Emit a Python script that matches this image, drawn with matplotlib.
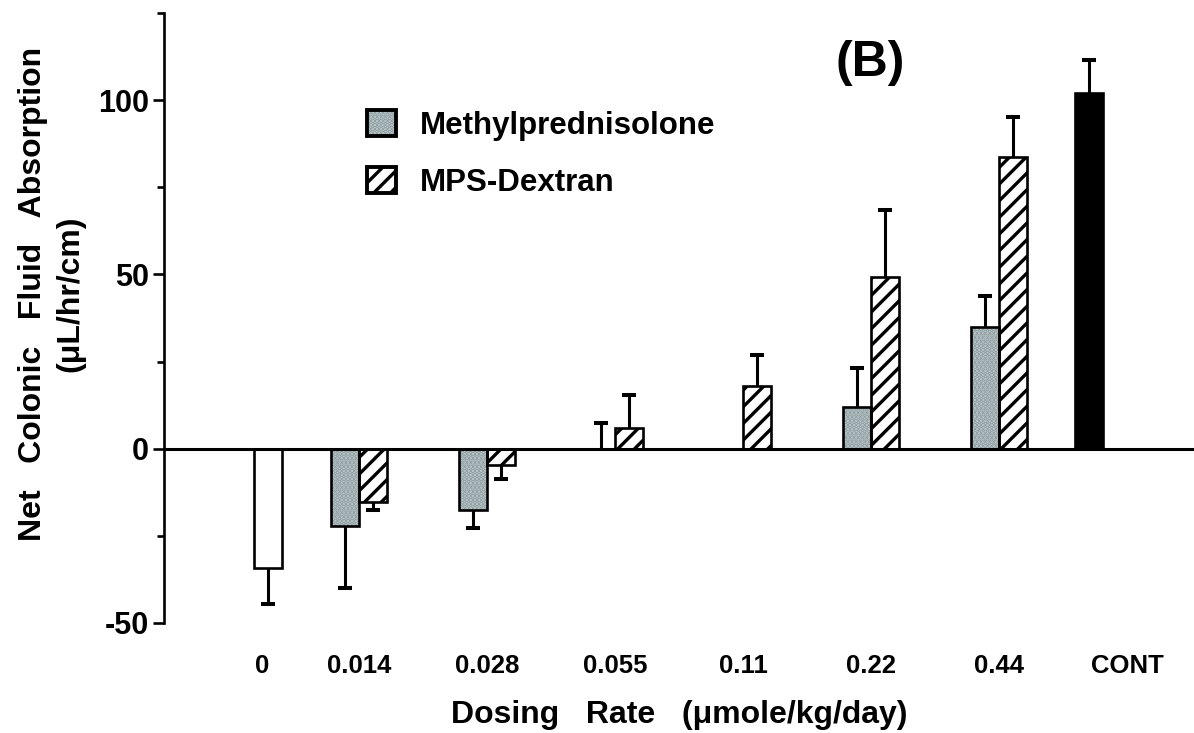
import numpy as np
import matplotlib
matplotlib.use("Agg")
import matplotlib.pyplot as plt
from matplotlib.patches import Patch
from matplotlib.legend_handler import HandlerTuple

# ---- data -------------------------------------------------------------
dose_labels = ["0", "0.014", "0.028", "0.055", "0.11", "0.22", "0.44", "CONT"]

# treated groups: doses 0.014 ... 0.44 (umole/kg/day)
mp_mean = [-22.1, -17.5, 0.0, np.nan, 11.9, 34.9]      # Methylprednisolone
mp_sem = [17.8, 5.2, 7.3, np.nan, 11.2, 8.9]
dx_mean = [-15.4, -4.8, 5.8, 17.9, 49.3, 83.8]         # MPS-Dextran
dx_sem = [2.3, 4.0, 9.5, 9.0, 19.3, 11.5]

vehicle_mean, vehicle_sem = -34.1, 10.4                # dose 0
control_mean, control_sem = 102.1, 9.5                 # CONT

# ---- layout -----------------------------------------------------------
FONT = "Liberation Sans"
BAR_W = 0.22
STIP_BG = "#c2cccc"
STIP_DOT = "#8a9ba0"
plt.rcParams["font.family"] = FONT
plt.rcParams["font.weight"] = "bold"
plt.rcParams["hatch.linewidth"] = 2.4
plt.rcParams["axes.unicode_minus"] = False

fig = plt.figure(figsize=(11.94, 7.33), dpi=100)
ax = fig.add_axes([164 / 1194, 110 / 733, 1030 / 1194, 610 / 733])
ax.set_xlim(-0.523, 7.523)
ax.set_ylim(-50, 125)

groups = np.arange(1, 7)
mp_x = groups - BAR_W / 2
dx_x = groups + BAR_W / 2
vehicle_x, control_x = 0.29, 6.70
tick_x = [0.24, 1, 2, 3, 4, 5, 6, 7.0]

mp_mean = np.array(mp_mean)
mp_sem = np.array(mp_sem)
dx_mean = np.array(dx_mean)
dx_sem = np.array(dx_sem)

EDGE_LW = 1.9


def one_sided_error(x, values, errs):
    """Stem from the bar end outward, with a cap only at the far end."""
    x = np.atleast_1d(x)
    values = np.atleast_1d(values)
    errs = np.atleast_1d(errs)
    sign = np.where(values < 0, -1.0, 1.0)
    lower = np.where(sign < 0, errs, 0.0)
    upper = np.where(sign > 0, errs, 0.0)
    ax.errorbar(x, values, yerr=np.vstack([lower, upper]), fmt="none",
                ecolor="black", elinewidth=2.2, capsize=0, zorder=1)
    ax.plot(x, values + sign * errs, linestyle="none", marker="_",
            markersize=10.5, markeredgewidth=2.9, color="black", zorder=1)


# vehicle (open bar)
ax.bar(vehicle_x, vehicle_mean, BAR_W, facecolor="white", edgecolor="black",
       linewidth=EDGE_LW, zorder=3)
one_sided_error(vehicle_x, vehicle_mean, vehicle_sem)

# Methylprednisolone (stippled)
m = ~np.isnan(mp_mean)
ax.bar(mp_x[m], mp_mean[m], BAR_W, facecolor=STIP_BG, edgecolor=STIP_DOT,
       hatch="....", linewidth=0, zorder=2)
ax.bar(mp_x[m], mp_mean[m], BAR_W, fill=False, edgecolor="black",
       linewidth=EDGE_LW, zorder=3)
one_sided_error(mp_x[m], mp_mean[m], mp_sem[m])

# MPS-Dextran (hatched)
ax.bar(dx_x, dx_mean, BAR_W, facecolor="white", edgecolor="black",
       hatch="//", linewidth=0, zorder=2)
ax.bar(dx_x, dx_mean, BAR_W, fill=False, edgecolor="black",
       linewidth=EDGE_LW, zorder=3)
one_sided_error(dx_x, dx_mean, dx_sem)

# control (solid)
ax.bar(control_x, control_mean, BAR_W, facecolor="black", edgecolor="black",
       linewidth=EDGE_LW, zorder=3)
one_sided_error(control_x, control_mean, control_sem)

# zero line
ax.axhline(0, color="black", linewidth=2.2, zorder=4)

# ---- axes styling -----------------------------------------------------
for side in ("top", "right", "bottom"):
    ax.spines[side].set_visible(False)
ax.spines["left"].set_linewidth(1.9)
ax.spines["left"].set_bounds(-50, 125)

ax.set_yticks([-50, 0, 50, 100])
ax.set_yticks([-25, 25, 75, 125], minor=True)
ax.tick_params(axis="y", which="major", length=8, width=1.9, pad=3,
               labelsize=22)
ax.tick_params(axis="y", which="minor", length=5, width=1.9)

ax.set_xticks(tick_x)
ax.set_xticklabels(dose_labels)
ax.tick_params(axis="x", length=0, pad=22, labelsize=18.5)

ax.set_xlabel("Dosing   Rate   (\u03bcmole/kg/day)", fontsize=23,
              fontweight="bold", labelpad=16)
ax.set_ylabel("Net   Colonic   Fluid   Absorption\n(\u03bcL/hr/cm)",
              fontsize=23, fontweight="bold", linespacing=1.3, va="center")
ax.yaxis.set_label_coords(-0.109, 0.54)

ax.text(870 / 1194, 1 - 63 / 733, "(B)", transform=fig.transFigure,
        fontsize=36, fontweight="bold", ha="center", va="center")

# ---- legend -----------------------------------------------------------
handles = [
    (Patch(facecolor=STIP_BG, edgecolor=STIP_DOT, hatch="....", linewidth=0),
     Patch(fill=False, edgecolor="black", linewidth=2.8)),
    (Patch(facecolor="white", edgecolor="black", hatch="//", linewidth=0),
     Patch(fill=False, edgecolor="black", linewidth=2.8)),
]
ax.legend(handles, ["Methylprednisolone", "MPS-Dextran"],
          handler_map={tuple: HandlerTuple(ndivide=1, pad=0)},
          loc="upper left", bbox_to_anchor=(367 / 1194, 1 - 110 / 733),
          bbox_transform=fig.transFigure, frameon=False, borderpad=0,
          borderaxespad=0, handlelength=0.92, handleheight=0.9,
          handletextpad=0.78, labelspacing=0.85,
          prop=dict(family=FONT, weight="bold", size=22.5))

fig.savefig("out.png", dpi=100)
